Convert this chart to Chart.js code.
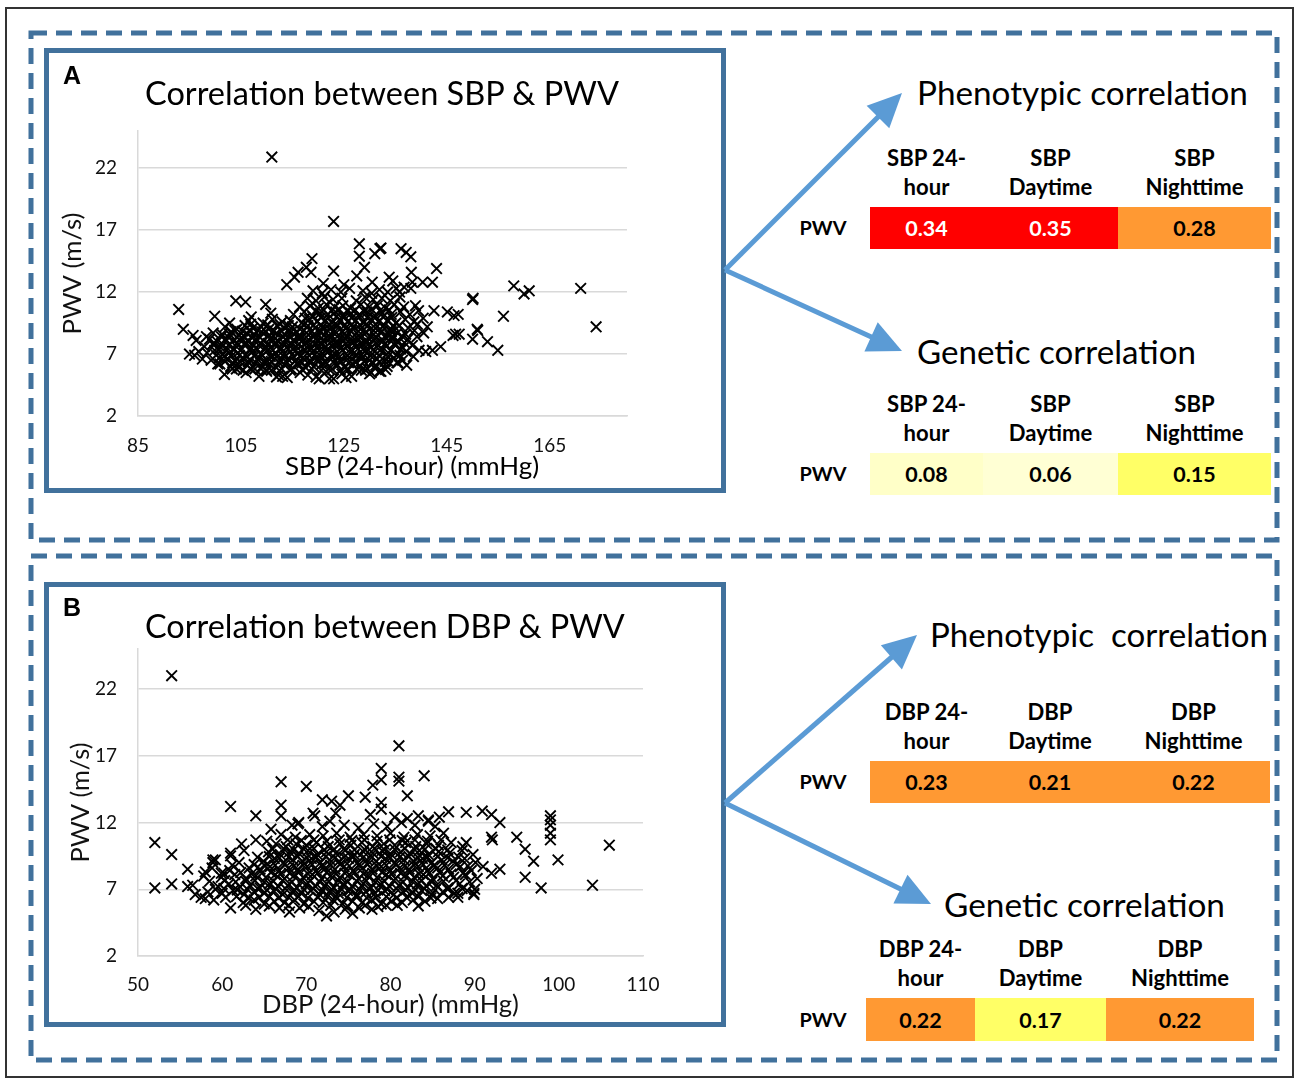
<!DOCTYPE html>
<html><head><meta charset="utf-8">
<script src="https://cdn.jsdelivr.net/npm/chart.js@4.4.1/dist/chart.umd.min.js"></script>
<style>
html,body{margin:0;padding:0;background:#fff;}
#page{position:relative;width:1300px;height:1082px;overflow:hidden;font-family:Lato,"Open Sans",sans-serif;color:#000;}
.txt{position:absolute;white-space:pre;line-height:1;transform:translateY(-50%);}
.ctr{position:absolute;white-space:pre;line-height:1;transform:translate(-50%,-50%);text-align:center;}
canvas{position:absolute;}
.cell{position:absolute;display:flex;align-items:center;justify-content:center;font-weight:bold;}
</style></head><body><div id="page">
<svg id="deco" width="1300" height="1082" style="position:absolute;left:0;top:0">
<rect x="6" y="8" width="1287" height="1069" fill="none" stroke="#333" stroke-width="2"/>
<rect x="31" y="33" width="1246" height="507" fill="none" stroke="#41719C" stroke-width="5" stroke-dasharray="16 9"/>
<rect x="31" y="556" width="1246" height="504" fill="none" stroke="#41719C" stroke-width="5" stroke-dasharray="16 9"/>
<rect x="46.5" y="50.5" width="677" height="440" fill="none" stroke="#41719C" stroke-width="5"/>
<rect x="46.5" y="584.5" width="677" height="440" fill="none" stroke="#41719C" stroke-width="5"/>
</svg>
<canvas id="chartA" width="672" height="435" style="left:49px;top:53px;width:672px;height:435px"></canvas>
<canvas id="chartB" width="672" height="435" style="left:49px;top:587px;width:672px;height:435px"></canvas>
</div>
<script>
// ---------------- DATA ----------------
const pwvTicks = [2, 7, 12, 17, 22];
const sbpTicks = [85, 105, 125, 145, 165];
const dbpTicks = [50, 60, 70, 80, 90, 100, 110];

// SBP (24-hour) vs PWV
const sbpPoints = [
[111,22.9],[123,17.7],[128,15.9],[128,14.9],[129,14.0],[131,15.1],[132,15.5],[123,13.7],[118.8,14.7],[118.6,13.6],[116.1,13.6],[117.7,14.0],[115.4,13.2],[113.9,12.6],
[92.9,10.6],[93.8,9.0],[96,6.9],[95.7,8.5],[99.9,10.05],[101.8,5.35],[104,11.3],[105.9,11.2],[109.8,11.0],[107,10.0],[102.8,9.5],[102.8,8.6],
[171,12.3],[174,9.2],[158,12.5],[160,11.85],[161,12.1],[156,10.05],[150,11.4],[150.1,11.5],[154.9,7.3],[152.9,8.0],[150.9,9.0],[151,8.9],[150,8.2],[146.7,8.6],[147.4,8.6],[146.2,8.5],[143.8,7.6],
[146.4,10.1],[147.2,10.2],[145.1,10.4],[143,13.9],[142.2,12.8],[140.3,12.8],[138.3,12.8],[138.1,13.6],[138,14.85],[136.1,15.5],[137.1,15.2],[132.2,15.55],[133.8,13.2],[135.8,12],[138,12.3],[136.7,12.4],
[142.5,10.5],[139.6,7.3],[140.9,7.2],[142.2,7.3],[132.2,5.6],
[98.3,8.4],[99.6,7.8],[100.9,6.2],[104.1,5.8],[109.9,5.7],[111.9,5.15],[113.1,5.2],[119.6,5.15],[122.2,5.0],[125.4,5.1],[130,5.4],[131.9,5.6],
[106,5.5],[108.5,5.2],[110,5.6],[112.3,5.3],[114,5.1],[116.5,5.5],[118,5.3],[120.2,5.0],[121.5,5.6],[123,5.0],[124.6,5.4],[126.5,5.2],[128.4,5.7],[130.3,5.5],
[103.3,5.8],[105.4,5.7],[107,5.75],[108.9,5.8],[110.9,5.7],[112.9,5.8],[114.6,5.7],[116.9,5.75],[118.8,5.8],[120.6,5.7],[122.7,5.8],[124.3,5.7],[125.9,5.75],[127.5,5.8],[129.2,5.7],[131,5.85],[133.1,5.75],
[100.5,6.2],[103,6.0],[104.6,5.9],[106.2,6.1],[107.7,5.8],[109.1,6.0],[110.6,6.2],[111.9,5.9],[113.5,6.1],[114.8,5.8],[116.2,6.2],[117.6,5.9],[119.1,6.0],[120.7,6.2],[122.1,5.8],[123.8,6.1],[125.2,5.9],[126.7,6.2],[128.1,6.0],[129.6,5.8],[131.2,6.1],[133.4,6.0],[135.5,6.3],[137.2,6.1],
[101.9,6.4],[103.4,6.3],[104.9,6.35],[106.4,6.4],[107.9,6.3],[109.4,6.35],[110.9,6.4],[112.4,6.3],[113.9,6.35],[115.4,6.4],[116.9,6.3],[118.4,6.35],[119.9,6.4],[121.4,6.3],[122.9,6.35],[124.4,6.4],[125.9,6.3],[127.4,6.35],[128.9,6.4],[130.4,6.3],[131.9,6.35],[133.6,6.4],[135.3,6.3],
[97.5,6.6],[99.2,6.5],[100.8,6.7],[102.3,6.6],[103.9,6.4],[105.3,6.7],[106.8,6.5],[108.2,6.6],[109.7,6.4],[111.2,6.8],[112.6,6.5],[114.1,6.6],[115.5,6.4],[117,6.7],[118.4,6.5],[119.9,6.6],[121.3,6.4],[122.8,6.7],[124.2,6.5],[125.7,6.6],[127.1,6.4],[128.6,6.7],[130,6.5],[131.5,6.6],[133,6.4],[134.7,6.7],[136.4,6.5],[138.5,6.8],
[100.2,6.9],[101.7,6.8],[103.2,6.85],[104.7,6.9],[106.2,6.8],[107.7,6.85],[109.2,6.9],[110.7,6.8],[112.2,6.85],[113.7,6.9],[115.2,6.8],[116.7,6.85],[118.2,6.9],[119.7,6.8],[121.2,6.85],[122.7,6.9],[124.2,6.8],[125.7,6.85],[127.2,6.9],[128.7,6.8],[130.2,6.85],[131.8,6.9],[133.5,6.8],[135.9,6.9],
[95,7.0],[96.8,7.2],[98.4,7.1],[99.9,7.3],[101.5,7.0],[103,7.2],[104.4,7.1],[105.9,6.9],[107.3,7.2],[108.8,7.0],[110.2,7.3],[111.7,7.1],[113.1,6.9],[114.6,7.2],[116,7.0],[117.5,7.3],[118.9,7.1],[120.4,6.9],[121.8,7.2],[123.3,7.0],[124.7,7.3],[126.2,7.1],[127.6,6.9],[129.1,7.2],[130.5,7.0],[132,7.3],[133.6,7.1],[135.3,6.9],[137.1,7.2],
[100.7,7.4],[102.2,7.3],[103.7,7.35],[105.2,7.4],[106.7,7.3],[108.2,7.35],[109.7,7.4],[111.2,7.3],[112.7,7.35],[114.2,7.4],[115.7,7.3],[117.2,7.35],[118.7,7.4],[120.2,7.3],[121.7,7.35],[123.2,7.4],[124.7,7.3],[126.2,7.35],[127.7,7.4],[129.2,7.3],[130.7,7.35],[132.3,7.4],[134.1,7.3],[136,7.4],
[97.9,7.6],[99.5,7.8],[101.1,7.5],[102.6,7.7],[104.1,7.6],[105.6,7.8],[107,7.5],[108.5,7.7],[109.9,7.6],[111.4,7.8],[112.8,7.5],[114.3,7.7],[115.7,7.6],[117.2,7.8],[118.6,7.5],[120.1,7.7],[121.5,7.6],[123,7.8],[124.4,7.5],[125.9,7.7],[127.3,7.6],[128.8,7.8],[130.2,7.5],[131.7,7.7],[133.2,7.6],[134.8,7.8],[136.5,7.5],[138.3,7.7],
[99.8,7.9],[101.3,7.85],[102.8,7.8],[104.3,7.9],[105.8,7.85],[107.3,7.8],[108.8,7.9],[110.3,7.85],[111.8,7.8],[113.3,7.9],[114.8,7.85],[116.3,7.8],[117.8,7.9],[119.3,7.85],[120.8,7.8],[122.3,7.9],[123.8,7.85],[125.3,7.8],[126.8,7.9],[128.3,7.85],[129.8,7.8],[131.3,7.9],[133,7.85],[134.7,7.8],[136.8,7.9],
[96.3,8.1],[98.9,8.2],[100.4,8.0],[102,8.2],[103.5,8.1],[105,8.3],[106.4,8.0],[107.9,8.2],[109.3,8.1],[110.8,8.3],[112.2,8.0],[113.7,8.2],[115.1,8.1],[116.6,8.3],[118,8.0],[119.5,8.2],[120.9,8.1],[122.4,8.3],[123.8,8.0],[125.3,8.2],[126.7,8.1],[128.2,8.3],[129.6,8.0],[131.1,8.2],[132.6,8.1],[134.1,8.3],[135.7,8.0],[137.4,8.2],[139.2,8.4],
[101.2,8.4],[102.7,8.3],[104.2,8.35],[105.7,8.4],[107.2,8.3],[108.7,8.35],[110.2,8.4],[111.7,8.3],[113.2,8.35],[114.7,8.4],[116.2,8.3],[117.7,8.35],[119.2,8.4],[120.7,8.3],[122.2,8.35],[123.7,8.4],[125.2,8.3],[126.7,8.35],[128.2,8.4],[129.7,8.3],[131.2,8.35],[132.9,8.4],[134.6,8.3],[136.3,8.45],
[99.6,8.7],[101.3,8.6],[103.1,8.8],[104.7,8.5],[106.1,8.7],[107.6,8.6],[109,8.8],[110.5,8.5],[111.9,8.7],[113.4,8.6],[114.8,8.8],[116.3,8.5],[117.7,8.7],[119.2,8.6],[120.6,8.8],[122.1,8.5],[123.5,8.7],[125,8.6],[126.4,8.8],[127.9,8.5],[129.3,8.7],[130.8,8.6],[132.3,8.8],[133.9,8.5],[135.4,8.7],[137,8.6],[138.7,8.9],[140.5,8.7],
[103.8,8.9],[105.3,8.85],[106.8,8.8],[108.3,8.9],[109.8,8.85],[111.3,8.8],[112.8,8.9],[114.3,8.85],[115.8,8.8],[117.3,8.9],[118.8,8.85],[120.3,8.8],[121.8,8.9],[123.3,8.85],[124.8,8.8],[126.3,8.9],[127.8,8.85],[129.3,8.8],[130.8,8.9],[132.4,8.85],[134.2,8.8],
[101.9,9.2],[104.2,9.0],[105.8,9.3],[107.3,9.1],[108.9,9.2],[110.4,9.0],[112,9.3],[113.5,9.1],[115,9.2],[116.5,9.0],[118,9.3],[119.4,9.1],[120.9,9.2],[122.3,9.0],[123.8,9.3],[125.3,9.1],[126.8,9.2],[128.2,9.0],[129.7,9.3],[131.1,9.1],[132.6,9.2],[134.2,9.0],[135.8,9.3],[137.5,9.1],[139.3,9.4],[141.2,9.2],
[106.9,9.4],[110.2,9.35],[112.6,9.4],[114.2,9.3],[117.2,9.4],[119.1,9.35],[120.6,9.3],[122.1,9.4],[123.6,9.35],[125.1,9.3],[126.6,9.4],[128.1,9.35],[129.6,9.3],[131.1,9.4],[132.8,9.35],[134.6,9.3],
[106.5,9.7],[109.3,9.5],[111.1,9.8],[113,9.6],[114.6,9.7],[116.8,9.5],[118.3,9.8],[119.8,9.6],[121.3,9.7],[122.7,9.5],[124.2,9.8],[125.7,9.6],[127.3,9.7],[128.8,9.5],[130.3,9.8],[131.8,9.6],[133.4,9.7],[135.1,9.5],[136.9,9.8],[138.6,9.6],[140.4,9.9],
[117.5,9.9],[119,10.0],[120.5,9.95],[122,9.9],[123.5,10.0],[125,9.95],[126.5,9.9],[128,10.0],[129.5,9.95],[131,9.9],[132.6,10.0],[134.3,9.95],
[110.8,10.3],[115.2,10.2],[117.3,10.4],[118.9,10.1],[120.4,10.3],[121.9,10.2],[123.4,10.4],[124.9,10.1],[126.4,10.3],[128,10.2],[129.5,10.4],[131,10.1],[132.5,10.3],[134.2,10.2],[136,10.4],[137.8,10.2],[139.5,10.5],
[119.6,10.5],[121.1,10.55],[122.6,10.5],[124.1,10.6],[125.6,10.5],[127.2,10.55],[128.8,10.5],[130.4,10.6],[132,10.5],[133.8,10.55],
[116.4,10.8],[118.4,10.9],[120,10.7],[121.6,11.0],[123.2,10.8],[124.8,10.9],[126.3,10.7],[128.3,11.0],[129.9,10.8],[131.5,10.9],[133.1,10.7],[134.8,11.0],[136.6,10.8],[138.9,10.9],
[117.9,11.5],[119.6,11.3],[121.2,11.6],[122.9,11.4],[124.6,11.5],[127.4,11.3],[129.1,11.6],[130.7,11.4],[132.4,11.5],[134,11.3],[135.9,11.6],
[119,12.1],[120.8,11.9],[122.5,12.2],[124.4,12.0],[126.1,12.3],[128.7,12.1],[130.4,11.9],[131.9,12.2],[133.5,12.0],[135.2,12.3],
[125,12.6],[127.5,13.3],[121,12.7],[130.5,12.8],[134.5,12.9]
];

// DBP (24-hour) vs PWV
const dbpPoints = [
[54,23],[52,10.5],[52,7.1],[54,9.6],[54,7.4],[55.9,8.5],[55.9,7.2],[56.8,6.6],[58,6.3],[61,13.2],[61,9.7],[61,9.5],[61,5.6],[64,12.5],[64,10.7],[67,15.05],[67,13.3],[67,12.5],[70,14.7],
[71.9,13.7],[73,13.6],[74,13.3],[75,14.0],[77,13.9],[77.9,14.8],[78.9,15.2],[78.9,16.05],[78.9,13.5],[69,11.9],
[81,17.75],[81,15.4],[81,15.1],[84,15.5],[82,14.0],[86.9,12.8],[89,12.76],[90.9,12.86],[92,12.6],[93,12.0],[99,12.5],[99,12.2],[99,11.8],[99,11.2],[99,10.7],[92,10.9],[92.1,10.7],[95,10.9],
[96,10.0],[97,9.1],[99.9,9.2],[106,10.3],[96,7.9],[97.9,7.1],[104,7.3],[93,8.5],[92,8.2],[88,6.7],[89.9,6.7],[89,10.5],[91,8.7],
[62.3,10.4],[62.6,9.9],[58.9,9.2],[58.9,9.0],[58,8.3],[59.9,8.2],[65.3,10.6],[65.8,11.5],[70.8,12.7],
[64,5.5],[66.8,5.6],[68,5.3],[69.2,5.6],[71.5,5.4],[72.4,5.0],[73.3,5.3],[74.6,5.5],[75.5,5.2],[76.3,5.6],[77.8,5.5],[79.5,5.8],
[80.5,12.4],[82,12.3],[83.3,12.5],[84.5,12.2],[85.8,12.4],[77.6,12.6],[78.9,13.0],[73.5,12.7],[71,12.5],
[62.8,5.8],[65.6,5.75],[67.9,5.8],[70.3,5.7],[72.9,5.8],[74.9,5.75],[77,5.8],[78.5,5.7],[80.8,5.8],[83.3,5.75],
[57.5,6.4],[59,6.2],[62.5,6.0],[63.8,6.2],[65,5.9],[66.2,6.1],[67.4,6.0],[68.6,6.2],[69.7,5.9],[70.9,6.1],[72,6.0],[73.2,6.2],[74.3,5.9],[75.5,6.1],[76.6,6.0],[77.8,6.2],[78.9,5.9],[80.1,6.1],[81.4,6.0],[82.7,6.2],[84.1,6.1],[85.6,6.3],[88,6.4],[89.9,6.6],
[60.4,6.4],[61.7,6.45],[63.2,6.35],[64.4,6.4],[65.6,6.45],[66.7,6.35],[67.9,6.4],[69.1,6.45],[70.2,6.35],[71.4,6.4],[72.5,6.45],[73.7,6.35],[74.8,6.4],[76,6.45],[77.2,6.35],[78.3,6.4],[79.5,6.45],[80.7,6.35],[81.9,6.4],[83.3,6.45],[84.8,6.35],[86.9,6.4],
[58.3,6.8],[60,6.7],[61.3,6.9],[62.6,6.6],[63.8,6.8],[65,6.7],[66.1,6.9],[67.2,6.6],[68.3,6.8],[69.4,6.7],[70.5,6.9],[71.6,6.6],[72.7,6.8],[73.8,6.7],[74.9,6.9],[76,6.6],[77.1,6.8],[78.2,6.7],[79.3,6.9],[80.4,6.6],[81.5,6.8],[82.6,6.7],[83.7,6.9],[84.9,6.6],[86.2,6.8],[87.6,6.7],[89.1,6.9],
[59.2,7.0],[60.2,7.05],[61.8,6.95],[63,7.0],[64.2,7.05],[65.3,6.95],[66.4,7.0],[67.5,7.05],[68.6,6.95],[69.7,7.0],[70.8,7.05],[71.9,6.95],[73,7.0],[74.1,7.05],[75.2,6.95],[76.3,7.0],[77.4,7.05],[78.5,6.95],[79.6,7.0],[80.7,7.05],[81.8,6.95],[82.9,7.0],[84,7.05],[85.3,6.95],[86.8,7.0],[88.5,7.05],
[56.5,7.3],[59.5,7.2],[60.8,7.4],[62.1,7.2],[63.3,7.3],[64.5,7.1],[65.6,7.4],[66.7,7.2],[67.8,7.3],[68.9,7.1],[70,7.4],[71.1,7.2],[72.2,7.3],[73.3,7.1],[74.4,7.4],[75.5,7.2],[76.6,7.3],[77.7,7.1],[78.8,7.4],[79.9,7.2],[81,7.3],[82.1,7.1],[83.2,7.4],[84.3,7.2],[85.5,7.3],[86.8,7.1],[88.2,7.4],[90,7.0],
[58.5,7.6],[60.3,7.65],[61.6,7.55],[62.8,7.6],[63.9,7.65],[65,7.55],[66.1,7.6],[67.2,7.65],[68.3,7.55],[69.4,7.6],[70.5,7.65],[71.6,7.55],[72.7,7.6],[73.8,7.65],[74.9,7.55],[76,7.6],[77.1,7.65],[78.2,7.55],[79.3,7.6],[80.4,7.65],[81.5,7.55],[82.6,7.6],[83.7,7.65],[84.9,7.55],[86.3,7.6],[87.8,7.65],[89.4,7.55],
[57.8,8.0],[59.9,7.9],[61.5,8.1],[62.8,7.8],[64,8.0],[65.2,7.9],[66.3,8.1],[67.4,7.8],[68.5,8.0],[69.6,7.9],[70.7,8.1],[71.8,7.8],[72.9,8.0],[74,7.9],[75.1,8.1],[76.2,7.8],[77.3,8.0],[78.4,7.9],[79.5,8.1],[80.6,7.8],[81.7,8.0],[82.8,7.9],[83.9,8.1],[85,7.8],[86.2,8.0],[87.5,7.9],[88.9,8.1],[90.3,7.8],
[60.2,8.2],[62.2,8.25],[63.5,8.15],[64.7,8.2],[65.8,8.25],[66.9,8.15],[68,8.2],[69.1,8.25],[70.2,8.15],[71.3,8.2],[72.4,8.25],[73.5,8.15],[74.6,8.2],[75.7,8.25],[76.8,8.15],[77.9,8.2],[79,8.25],[80.1,8.15],[81.2,8.2],[82.3,8.25],[83.4,8.15],[84.6,8.2],[85.9,8.25],[87.2,8.15],[88.6,8.2],
[58.8,8.6],[60.9,8.4],[63.2,8.6],[64.5,8.5],[65.7,8.7],[66.8,8.4],[67.9,8.6],[69,8.5],[70.1,8.7],[71.2,8.4],[72.3,8.6],[73.4,8.5],[74.5,8.7],[75.6,8.4],[76.7,8.6],[77.8,8.5],[78.9,8.7],[80,8.4],[81.1,8.6],[82.2,8.5],[83.3,8.7],[84.4,8.4],[85.6,8.6],[86.9,8.5],[88.3,8.7],[89.6,8.4],
[61.2,8.8],[63.8,8.85],[65.1,8.75],[66.3,8.8],[67.4,8.85],[68.5,8.75],[69.6,8.8],[70.7,8.85],[71.8,8.75],[72.9,8.8],[74,8.85],[75.1,8.75],[76.2,8.8],[77.3,8.85],[78.4,8.75],[79.5,8.8],[80.6,8.85],[81.7,8.75],[82.8,8.8],[83.9,8.85],[85.1,8.75],[86.4,8.8],[87.8,8.85],[89.2,8.75],
[59.2,9.2],[62,9.0],[64.9,9.1],[66.2,9.3],[67.3,9.0],[68.4,9.2],[69.5,9.1],[70.6,9.3],[71.7,9.0],[72.8,9.2],[73.9,9.1],[75,9.3],[76.1,9.0],[77.2,9.2],[78.3,9.1],[79.4,9.3],[80.5,9.0],[81.6,9.2],[82.7,9.1],[83.8,9.3],[84.9,9.0],[86.1,9.2],[87.4,9.1],[88.8,9.3],[90.1,9.0],
[64.2,9.4],[65.6,9.45],[66.8,9.35],[67.9,9.4],[69,9.45],[70.1,9.35],[71.2,9.4],[72.3,9.45],[73.4,9.35],[74.5,9.4],[75.6,9.45],[76.7,9.35],[77.8,9.4],[78.9,9.45],[80,9.35],[81.1,9.4],[82.2,9.45],[83.3,9.35],[84.4,9.4],[85.6,9.45],[86.8,9.35],[88.1,9.4],
[65.5,9.8],[66.9,9.6],[68,9.8],[69.1,9.7],[70.2,9.9],[71.3,9.6],[72.4,9.8],[73.5,9.7],[74.6,9.9],[75.7,9.6],[76.8,9.8],[77.9,9.7],[79,9.9],[80.1,9.6],[81.2,9.8],[82.3,9.7],[83.4,9.9],[84.5,9.6],[85.7,9.8],[87,9.7],[88.5,9.9],[89.8,9.6],
[66,10.0],[67.3,10.05],[68.5,9.95],[69.7,10.0],[70.9,10.05],[72.1,9.95],[73.3,10.0],[74.5,10.05],[75.7,9.95],[76.9,10.0],[78.1,10.05],[79.3,9.95],[80.5,10.0],[81.7,10.05],[82.9,9.95],[84.1,10.0],[85.4,10.05],[86.8,9.95],
[66.4,10.4],[67.6,10.2],[68.8,10.4],[70,10.3],[71.2,10.5],[72.6,10.2],[74,10.4],[75.3,10.3],[76.6,10.5],[77.9,10.2],[79.2,10.4],[80.5,10.3],[81.8,10.5],[83,10.2],[84.3,10.4],[85.7,10.3],[87.2,10.5],[88.6,10.2],
[67.8,10.7],[69.4,10.65],[70.9,10.7],[72.4,10.6],[73.9,10.7],[75.4,10.65],[76.9,10.7],[78.4,10.6],[79.9,10.7],[81.4,10.65],[82.9,10.7],[84.4,10.6],[86,10.7],
[67,11.1],[68.7,10.9],[70.4,11.1],[72,11.0],[73.6,11.2],[75.2,10.9],[76.8,11.1],[78.4,11.0],[80,11.2],[81.6,10.9],[83.2,11.1],[84.7,11.0],[86.3,11.2],
[68.3,11.8],[69.1,12.0],[71.9,11.7],[72.8,12.1],[74.5,11.8],[76.2,11.6],[78,11.9],[79.6,11.7],[81.3,12.0],[82.9,11.8],[84.5,12.1],[85.3,11.7]
];

// correlation tables
const rowLabel = 'PWV';
const sbpHeaders = [['SBP 24-','hour'],['SBP','Daytime'],['SBP','Nighttime']];
const dbpHeaders = [['DBP 24-','hour'],['DBP','Daytime'],['DBP','Nighttime']];
const sbpPhenotypic = [0.34, 0.35, 0.28];
const sbpGenetic = [0.08, 0.06, 0.15];
const dbpPhenotypic = [0.23, 0.21, 0.22];
const dbpGenetic = [0.22, 0.17, 0.22];

// ---------------- STYLE / LAYOUT ----------------
const FAMILY = 'Lato, "Open Sans", sans-serif';
const mctx = document.createElement('canvas').getContext('2d');
function fitPx(text, target, weight) {
  mctx.font = (weight || 'normal') + ' 100px ' + FAMILY;
  return 100 * target / mctx.measureText(text).width;
}
const page = document.getElementById('page');
function addText(text, left, cy, size, weight, cls) {
  const d = document.createElement('div');
  d.className = cls || 'txt';
  d.textContent = text;
  d.style.left = left + 'px';
  d.style.top = cy + 'px';
  d.style.fontSize = size + 'px';
  d.style.fontWeight = weight || 'normal';
  page.appendChild(d);
  return d;
}

Chart.defaults.font.family = FAMILY;
Chart.defaults.color = '#111';

function makeScatter(id, points, xMin, xMax, xTicks, opt) {
  const yFs = fitPx('PWV (m/s)', opt.yTitleW);
  const xTitle = opt.xTitle ? {
    display: true, text: opt.xTitle, color: '#111',
    font: { size: fitPx(opt.xTitle, opt.xTitleW) },
    padding: { top: 0, bottom: opt.xTitleBottom - fitPx(opt.xTitle, opt.xTitleW) * 0.6 }
  } : { display: false };
  return new Chart(document.getElementById(id), {
    type: 'scatter',
    data: { datasets: [{
      data: points.map(p => ({ x: p[0], y: p[1] })),
      pointStyle: 'crossRot', pointRadius: 7.5, pointBorderWidth: 1.9,
      borderColor: '#000', backgroundColor: '#000', pointHoverRadius: 7.5
    }]},
    options: {
      responsive: false, animation: false, devicePixelRatio: 1, events: [],
      layout: { padding: { left: 0, top: opt.padTop, right: opt.padRight, bottom: 0 } },
      plugins: { legend: { display: false }, tooltip: { enabled: false }, title: { display: false } },
      scales: {
        x: {
          type: 'linear', min: xMin, max: xMax,
          afterBuildTicks: s => { s.ticks = xTicks.map(v => ({ value: v })); },
          afterFit: s => { s.height = opt.xScaleH; },
          grid: { display: false },
          border: { display: true, color: '#D9D9D9', width: 1.5 },
          ticks: { font: { size: 19 }, color: '#111', padding: opt.xTickPad, maxRotation: 0, autoSkip: false },
          title: xTitle
        },
        y: {
          type: 'linear', min: 2, max: 25,
          afterBuildTicks: s => { s.ticks = pwvTicks.map(v => ({ value: v })); },
          afterFit: s => { s.width = 89; },
          grid: { display: true, color: '#D9D9D9', lineWidth: 1.5, drawTicks: false },
          border: { display: true, color: '#D9D9D9', width: 1.5 },
          ticks: { font: { size: 19 }, color: '#111', padding: 21, autoSkip: false },
          title: { display: true, text: 'PWV (m/s)', color: '#111', font: { size: yFs },
                   padding: { top: opt.yTitleCx - yFs * 0.6, bottom: 0 } }
        }
      }
    }
  });
}

makeScatter('chartA', sbpPoints, 85, 180, sbpTicks, {
  padTop: 78, padRight: 94, xScaleH: 72, xTickPad: 10, yTitleW: 122, yTitleCx: 24
});
makeScatter('chartB', dbpPoints, 50, 110, dbpTicks, {
  padTop: 62, padRight: 78, xScaleH: 66, xTickPad: 9, yTitleW: 120, yTitleCx: 32,
  xTitle: 'DBP (24-hour) (mmHg)', xTitleW: 257, xTitleBottom: 17
});

// chart titles and A x-axis title
addText('Correlation between SBP & PWV', 145, 93, fitPx('Correlation between SBP & PWV', 475));
addText('Correlation between DBP & PWV', 145, 626, fitPx('Correlation between DBP & PWV', 481));
addText('SBP (24-hour) (mmHg)', 285, 466, fitPx('SBP (24-hour) (mmHg)', 255));
const labFamily = '"Liberation Sans", Arial, sans-serif';
addText('A', 63, 75, 25, 'bold').style.fontFamily = labFamily;
addText('B', 63, 607, 25, 'bold').style.fontFamily = labFamily;

// arrows
const svg = document.getElementById('deco');
const NS = 'http://www.w3.org/2000/svg';
function arrow(x0, y0, x1, y1) {
  const dx = x1 - x0, dy = y1 - y0, len = Math.hypot(dx, dy), ux = dx / len, uy = dy / len;
  const L = 34, hw = 16;
  const bx = x1 - ux * L, by = y1 - uy * L;
  const ln = document.createElementNS(NS, 'line');
  ln.setAttribute('x1', x0); ln.setAttribute('y1', y0);
  ln.setAttribute('x2', bx + ux * 4); ln.setAttribute('y2', by + uy * 4);
  ln.setAttribute('stroke', '#5B9BD5'); ln.setAttribute('stroke-width', 5);
  svg.appendChild(ln);
  const pg = document.createElementNS(NS, 'polygon');
  pg.setAttribute('points', [x1, y1, bx - uy * hw, by + ux * hw, bx + uy * hw, by - ux * hw].join(' '));
  pg.setAttribute('fill', '#5B9BD5');
  svg.appendChild(pg);
}
arrow(725, 270, 902, 93);
arrow(725, 270, 902, 351);
arrow(725, 803, 917, 635);
arrow(725, 803, 931, 904);

// tables
const headFs = fitPx('Nighttime', 98, 'bold');
const valFs = fitPx('0.34', 42.5, 'bold');
const pwvFs = fitPx('PWV', 47, 'bold');
function table(edges, top, bottom, headY, headers, values, fills, textColors) {
  const cy = (top + bottom) / 2;
  addText(rowLabel, 823, cy, pwvFs, 'bold', 'ctr');
  for (let i = 0; i < values.length; i++) {
    const c = document.createElement('div');
    c.className = 'cell';
    c.style.left = edges[i] + 'px';
    c.style.top = top + 'px';
    c.style.width = (edges[i + 1] - edges[i]) + 'px';
    c.style.height = (bottom - top) + 'px';
    c.style.background = fills[i];
    c.style.color = textColors[i];
    c.style.fontSize = valFs + 'px';
    c.textContent = values[i].toFixed(2);
    page.appendChild(c);
    const cx = (edges[i] + edges[i + 1]) / 2;
    addText(headers[i][0], cx, headY[0], headFs, 'bold', 'ctr');
    addText(headers[i][1], cx, headY[1], headFs, 'bold', 'ctr');
  }
}
table([870, 983, 1118, 1271], 207, 249, [157.5, 186.5], sbpHeaders, sbpPhenotypic,
      ['#FF0000', '#FF0000', '#FF9933'], ['#fff', '#fff', '#000']);
table([870, 983, 1118, 1271], 453, 495, [403.5, 432.5], sbpHeaders, sbpGenetic,
      ['#FFFFC8', '#FFFFD4', '#FFFF66'], ['#000', '#000', '#000']);
table([870, 983, 1117, 1270], 761, 803, [711.5, 740.5], dbpHeaders, dbpPhenotypic,
      ['#FF9933', '#FF9933', '#FF9933'], ['#000', '#000', '#000']);
table([866, 975, 1106, 1254], 998, 1041, [948.5, 977.5], dbpHeaders, dbpGenetic,
      ['#FF9933', '#FFFF66', '#FF9933'], ['#000', '#000', '#000']);

// section titles
addText('Phenotypic correlation', 917, 93, fitPx('Phenotypic correlation', 331));
addText('Genetic correlation', 917, 351.5, fitPx('Genetic correlation', 279));
addText('Phenotypic  correlation', 930, 635, fitPx('Phenotypic  correlation', 338));
addText('Genetic correlation', 944, 905, fitPx('Genetic correlation', 281));
</script></body></html>
